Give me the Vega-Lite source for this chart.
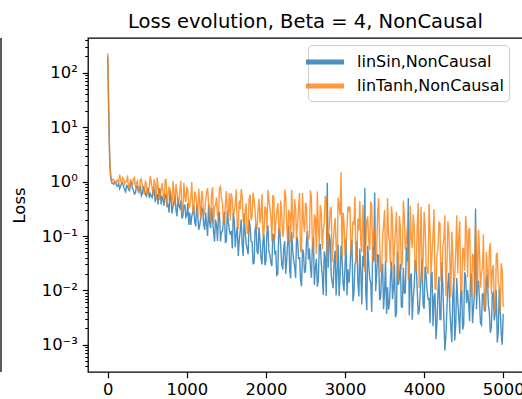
{
  "$schema": "https://vega.github.io/schema/vega-lite/v6.json",
  "width": 435,
  "height": 334,
  "autosize": "none",
  "padding": {"left": 88, "top": 38, "right": 0, "bottom": 27},
  "config": {
    "font": "DejaVu Sans",
    "view": {"stroke": "black", "strokeWidth": 1.3},
    "axis": {"grid": false, "domain": false, "tickColor": "black", "labelColor": "black", "titleColor": "black", "labelFont": "DejaVu Sans", "titleFont": "DejaVu Sans", "tickWidth": 1.2}
  },
  "title": {"text": "Loss evolution, Beta = 4, NonCausal", "font": "DejaVu Sans", "fontSize": 19.5, "fontWeight": "normal", "color": "black", "anchor": "middle", "frame": "group", "offset": 5},
  "data": {"values": [
    {"it":0,"sin":200,"tanh":230},{"it":12,"sin":18,"tanh":22},{"it":25,"sin":2.2,"tanh":2.6},{"it":37,"sin":1.2,"tanh":1.3},
    {"it":50,"sin":0.95,"tanh":1.0},{"it":62,"sin":0.94,"tanh":1.1},{"it":75,"sin":0.89,"tanh":1.1},{"it":87,"sin":0.99,"tanh":0.97},
    {"it":100,"sin":0.98,"tanh":0.95},{"it":112,"sin":0.83,"tanh":1.05},{"it":125,"sin":0.83,"tanh":1.05},{"it":137,"sin":0.91,"tanh":0.91},
    {"it":150,"sin":0.74,"tanh":1.35},{"it":162,"sin":0.82,"tanh":1.08},{"it":175,"sin":0.93,"tanh":0.91},{"it":187,"sin":0.95,"tanh":1.18},
    {"it":200,"sin":0.81,"tanh":1.1},{"it":212,"sin":0.71,"tanh":0.91},{"it":225,"sin":0.65,"tanh":1.0},{"it":237,"sin":0.85,"tanh":1.0},
    {"it":250,"sin":0.83,"tanh":1.3},{"it":262,"sin":0.71,"tanh":0.79},{"it":275,"sin":0.68,"tanh":0.74},{"it":287,"sin":0.93,"tanh":1.11},
    {"it":300,"sin":0.98,"tanh":0.95},{"it":312,"sin":0.75,"tanh":0.85},{"it":325,"sin":0.69,"tanh":1.12},{"it":337,"sin":0.59,"tanh":1.19},
    {"it":350,"sin":0.62,"tanh":0.78},{"it":362,"sin":0.82,"tanh":0.94},{"it":375,"sin":0.83,"tanh":1.02},{"it":387,"sin":0.66,"tanh":0.7},
    {"it":400,"sin":0.69,"tanh":0.6},{"it":412,"sin":0.84,"tanh":1.09},{"it":425,"sin":0.55,"tanh":1.12},{"it":437,"sin":0.6,"tanh":0.82},
    {"it":450,"sin":0.83,"tanh":0.79},{"it":462,"sin":0.71,"tanh":0.58},{"it":475,"sin":0.59,"tanh":1.0},{"it":487,"sin":0.54,"tanh":0.93},
    {"it":500,"sin":0.69,"tanh":0.58},{"it":512,"sin":0.77,"tanh":0.6},{"it":525,"sin":0.5,"tanh":0.81},{"it":537,"sin":0.6,"tanh":1.26},
    {"it":550,"sin":0.54,"tanh":1.0},{"it":562,"sin":0.51,"tanh":0.72},{"it":575,"sin":0.76,"tanh":0.55},{"it":587,"sin":0.71,"tanh":1.1},
    {"it":600,"sin":0.42,"tanh":0.85},{"it":612,"sin":0.53,"tanh":0.46},{"it":625,"sin":0.59,"tanh":1.19},{"it":637,"sin":0.38,"tanh":0.79},
    {"it":650,"sin":0.74,"tanh":0.46},{"it":662,"sin":0.72,"tanh":0.56},{"it":675,"sin":0.38,"tanh":0.71},{"it":687,"sin":0.52,"tanh":0.94},
    {"it":700,"sin":0.48,"tanh":0.56},{"it":712,"sin":0.36,"tanh":0.45},{"it":725,"sin":0.58,"tanh":1.02},{"it":737,"sin":0.56,"tanh":1.13},
    {"it":750,"sin":0.34,"tanh":0.35},{"it":762,"sin":0.39,"tanh":0.56},{"it":775,"sin":0.27,"tanh":0.78},{"it":787,"sin":0.68,"tanh":0.74},
    {"it":800,"sin":0.47,"tanh":0.54},{"it":812,"sin":0.26,"tanh":0.37},{"it":825,"sin":0.35,"tanh":1.02},{"it":837,"sin":0.43,"tanh":0.63},
    {"it":850,"sin":0.56,"tanh":0.37},{"it":862,"sin":0.3,"tanh":0.89},{"it":875,"sin":0.23,"tanh":0.64},{"it":887,"sin":0.51,"tanh":0.38},
    {"it":900,"sin":0.35,"tanh":0.43},{"it":912,"sin":0.32,"tanh":0.71},{"it":925,"sin":0.45,"tanh":1.03},{"it":937,"sin":0.21,"tanh":0.28},
    {"it":950,"sin":0.23,"tanh":0.29},{"it":962,"sin":0.36,"tanh":0.95},{"it":975,"sin":0.37,"tanh":0.51},{"it":987,"sin":0.22,"tanh":0.42},
    {"it":1000,"sin":0.24,"tanh":0.81},{"it":1012,"sin":0.4,"tanh":0.71},{"it":1025,"sin":0.16,"tanh":0.32},{"it":1037,"sin":0.27,"tanh":0.35},
    {"it":1050,"sin":0.16,"tanh":0.51},{"it":1062,"sin":0.23,"tanh":0.98},{"it":1075,"sin":0.27,"tanh":0.28},{"it":1087,"sin":0.35,"tanh":0.3},
    {"it":1100,"sin":0.18,"tanh":0.66},{"it":1112,"sin":0.15,"tanh":0.57},{"it":1125,"sin":0.37,"tanh":0.38},{"it":1137,"sin":0.25,"tanh":0.23},
    {"it":1150,"sin":0.13,"tanh":0.74},{"it":1162,"sin":0.155,"tanh":0.41},{"it":1175,"sin":0.21,"tanh":0.2},{"it":1187,"sin":0.33,"tanh":0.68},
    {"it":1200,"sin":0.3,"tanh":0.52},{"it":1212,"sin":0.164,"tanh":0.24},{"it":1225,"sin":0.13,"tanh":0.28},{"it":1237,"sin":0.27,"tanh":0.44},
    {"it":1250,"sin":0.16,"tanh":0.65},{"it":1262,"sin":0.1,"tanh":0.76},{"it":1275,"sin":0.39,"tanh":0.39},{"it":1287,"sin":0.18,"tanh":0.28},
    {"it":1300,"sin":0.14,"tanh":0.19},{"it":1312,"sin":0.33,"tanh":0.58},{"it":1325,"sin":0.2,"tanh":0.79},{"it":1337,"sin":0.122,"tanh":0.166},
    {"it":1350,"sin":0.079,"tanh":0.34},{"it":1362,"sin":0.2,"tanh":0.37},{"it":1375,"sin":0.16,"tanh":0.51},{"it":1387,"sin":0.081,"tanh":0.24},
    {"it":1400,"sin":0.25,"tanh":0.22},{"it":1412,"sin":0.275,"tanh":0.76},{"it":1425,"sin":0.079,"tanh":0.82},{"it":1437,"sin":0.118,"tanh":0.5},
    {"it":1450,"sin":0.12,"tanh":0.41},{"it":1462,"sin":0.185,"tanh":0.175},{"it":1475,"sin":0.28,"tanh":0.17},{"it":1487,"sin":0.077,"tanh":0.4},
    {"it":1500,"sin":0.079,"tanh":0.67},{"it":1512,"sin":0.29,"tanh":0.26},{"it":1525,"sin":0.18,"tanh":0.23},{"it":1537,"sin":0.129,"tanh":0.61},
    {"it":1550,"sin":0.105,"tanh":0.19},{"it":1562,"sin":0.124,"tanh":0.61},{"it":1575,"sin":0.059,"tanh":0.46},{"it":1587,"sin":0.27,"tanh":0.236},
    {"it":1600,"sin":0.19,"tanh":0.29},{"it":1612,"sin":0.062,"tanh":0.38},{"it":1625,"sin":0.11,"tanh":0.72},{"it":1637,"sin":0.148,"tanh":0.151},
    {"it":1650,"sin":0.043,"tanh":0.135},{"it":1662,"sin":0.082,"tanh":0.45},{"it":1675,"sin":0.126,"tanh":0.31},{"it":1687,"sin":0.2,"tanh":0.73},
    {"it":1700,"sin":0.069,"tanh":0.54},{"it":1712,"sin":0.043,"tanh":0.19},{"it":1725,"sin":0.26,"tanh":0.166},{"it":1737,"sin":0.119,"tanh":0.3},
    {"it":1750,"sin":0.071,"tanh":0.4},{"it":1762,"sin":0.058,"tanh":0.112},{"it":1775,"sin":0.046,"tanh":0.11},{"it":1787,"sin":0.2,"tanh":0.48},
    {"it":1800,"sin":0.145,"tanh":0.575},{"it":1812,"sin":0.08,"tanh":0.195},{"it":1825,"sin":0.078,"tanh":0.23},{"it":1837,"sin":0.031,"tanh":0.63},
    {"it":1850,"sin":0.032,"tanh":0.46},{"it":1862,"sin":0.124,"tanh":0.31},{"it":1875,"sin":0.164,"tanh":0.135},{"it":1887,"sin":0.052,"tanh":0.135},
    {"it":1900,"sin":0.046,"tanh":0.3},{"it":1912,"sin":0.145,"tanh":0.49},{"it":1925,"sin":0.083,"tanh":0.176},{"it":1937,"sin":0.039,"tanh":0.24},
    {"it":1950,"sin":0.03,"tanh":0.59},{"it":1962,"sin":0.08,"tanh":0.104},{"it":1975,"sin":0.107,"tanh":0.112},{"it":1987,"sin":0.029,"tanh":0.35},
    {"it":2000,"sin":0.035,"tanh":0.31},{"it":2012,"sin":0.115,"tanh":0.135},{"it":2025,"sin":0.157,"tanh":0.71},{"it":2037,"sin":0.052,"tanh":0.47},
    {"it":2050,"sin":0.046,"tanh":0.335},{"it":2062,"sin":0.032,"tanh":0.22},{"it":2075,"sin":0.028,"tanh":0.08},{"it":2087,"sin":0.107,"tanh":0.57},
    {"it":2100,"sin":0.105,"tanh":0.51},{"it":2112,"sin":0.048,"tanh":0.087},{"it":2125,"sin":0.051,"tanh":0.184},{"it":2137,"sin":0.019,"tanh":0.29},
    {"it":2150,"sin":0.02,"tanh":0.4},{"it":2162,"sin":0.139,"tanh":0.145},{"it":2175,"sin":0.12,"tanh":0.1},{"it":2187,"sin":0.062,"tanh":0.45},
    {"it":2200,"sin":0.03,"tanh":0.245},{"it":2212,"sin":0.024,"tanh":0.096},{"it":2225,"sin":0.058,"tanh":0.133},{"it":2237,"sin":0.081,"tanh":0.71},
    {"it":2250,"sin":0.02,"tanh":0.556},{"it":2262,"sin":0.035,"tanh":0.166},{"it":2275,"sin":0.078,"tanh":0.078},{"it":2287,"sin":0.155,"tanh":0.3},
    {"it":2300,"sin":0.023,"tanh":0.26},{"it":2312,"sin":0.0166,"tanh":0.076},{"it":2325,"sin":0.117,"tanh":0.71},{"it":2337,"sin":0.058,"tanh":0.23},
    {"it":2350,"sin":0.035,"tanh":0.091},{"it":2362,"sin":0.028,"tanh":0.48},{"it":2375,"sin":0.017,"tanh":0.32},{"it":2387,"sin":0.099,"tanh":0.089},
    {"it":2400,"sin":0.085,"tanh":0.166},{"it":2412,"sin":0.0375,"tanh":0.32},{"it":2425,"sin":0.041,"tanh":0.62},{"it":2437,"sin":0.0158,"tanh":0.05},
    {"it":2450,"sin":0.012,"tanh":0.055},{"it":2462,"sin":0.057,"tanh":0.62},{"it":2475,"sin":0.049,"tanh":0.18},{"it":2487,"sin":0.021,"tanh":0.117},
    {"it":2500,"sin":0.023,"tanh":0.41},{"it":2512,"sin":0.078,"tanh":0.35},{"it":2525,"sin":0.124,"tanh":0.087},{"it":2537,"sin":0.037,"tanh":0.087},
    {"it":2550,"sin":0.059,"tanh":0.1},{"it":2562,"sin":0.028,"tanh":0.69},{"it":2575,"sin":0.017,"tanh":0.51},{"it":2587,"sin":0.065,"tanh":0.073},
    {"it":2600,"sin":0.093,"tanh":0.054},{"it":2612,"sin":0.0126,"tanh":0.25},{"it":2625,"sin":0.026,"tanh":0.216},{"it":2637,"sin":0.038,"tanh":0.046},
    {"it":2650,"sin":0.0117,"tanh":0.66},{"it":2662,"sin":0.0152,"tanh":0.139},{"it":2675,"sin":0.069,"tanh":0.067},{"it":2687,"sin":0.069,"tanh":0.37},
    {"it":2700,"sin":0.031,"tanh":0.275},{"it":2712,"sin":0.0186,"tanh":0.057},{"it":2725,"sin":0.0082,"tanh":0.13},{"it":2737,"sin":0.052,"tanh":0.176},
    {"it":2750,"sin":0.039,"tanh":0.55},{"it":2762,"sin":0.0079,"tanh":0.47},{"it":2775,"sin":0.95,"tanh":0.04},{"it":2787,"sin":0.026,"tanh":0.083},
    {"it":2800,"sin":0.11,"tanh":0.145},{"it":2812,"sin":0.084,"tanh":0.3},{"it":2825,"sin":0.019,"tanh":0.34},{"it":2837,"sin":0.0145,"tanh":0.033},
    {"it":2850,"sin":0.011,"tanh":0.067},{"it":2862,"sin":0.036,"tanh":0.14},{"it":2875,"sin":0.054,"tanh":0.214},{"it":2887,"sin":0.0081,"tanh":0.066},
    {"it":2900,"sin":0.023,"tanh":0.031},{"it":2912,"sin":0.07,"tanh":0.51},{"it":2925,"sin":0.0078,"tanh":0.37},{"it":2937,"sin":0.0176,"tanh":0.24},
    {"it":2950,"sin":0.067,"tanh":1.48},{"it":2962,"sin":0.04,"tanh":0.04},{"it":2975,"sin":0.013,"tanh":0.27},{"it":2987,"sin":0.0098,"tanh":0.173},
    {"it":3000,"sin":0.029,"tanh":0.044},{"it":3012,"sin":0.087,"tanh":0.08},{"it":3025,"sin":0.0081,"tanh":0.145},{"it":3037,"sin":0.0245,"tanh":0.35},
    {"it":3050,"sin":0.0138,"tanh":0.3},{"it":3062,"sin":0.024,"tanh":0.35},{"it":3075,"sin":0.063,"tanh":0.048},{"it":3087,"sin":0.084,"tanh":0.076},
    {"it":3100,"sin":0.0063,"tanh":0.186},{"it":3112,"sin":0.0084,"tanh":0.159},{"it":3125,"sin":0.03,"tanh":0.53},{"it":3137,"sin":0.035,"tanh":0.034},
    {"it":3150,"sin":0.081,"tanh":0.033},{"it":3162,"sin":0.0141,"tanh":0.21},{"it":3175,"sin":0.0077,"tanh":0.126},{"it":3187,"sin":0.059,"tanh":0.44},
    {"it":3200,"sin":0.021,"tanh":0.069},{"it":3212,"sin":0.0055,"tanh":0.051},{"it":3225,"sin":0.043,"tanh":0.37},{"it":3237,"sin":0.0275,"tanh":0.107},
    {"it":3250,"sin":0.76,"tanh":0.022},{"it":3262,"sin":0.0094,"tanh":0.057},{"it":3275,"sin":0.0043,"tanh":0.195},{"it":3287,"sin":0.066,"tanh":0.23},
    {"it":3300,"sin":0.03,"tanh":0.076},{"it":3312,"sin":0.0164,"tanh":0.055},{"it":3325,"sin":0.0138,"tanh":0.43},{"it":3337,"sin":0.004,"tanh":0.36},
    {"it":3350,"sin":0.063,"tanh":0.033},{"it":3362,"sin":0.034,"tanh":0.119},{"it":3375,"sin":0.63,"tanh":0.138},{"it":3387,"sin":0.0096,"tanh":0.033},
    {"it":3400,"sin":0.02,"tanh":0.051},{"it":3412,"sin":0.045,"tanh":0.26},{"it":3425,"sin":0.044,"tanh":0.5},{"it":3437,"sin":0.0066,"tanh":0.083},
    {"it":3450,"sin":0.0075,"tanh":0.022},{"it":3462,"sin":0.0195,"tanh":0.0219},{"it":3475,"sin":0.031,"tanh":0.095},{"it":3487,"sin":0.0045,"tanh":0.157},
    {"it":3500,"sin":0.0098,"tanh":0.3},{"it":3512,"sin":0.035,"tanh":0.035},{"it":3525,"sin":0.0037,"tanh":0.034},{"it":3537,"sin":0.0114,"tanh":0.5},
    {"it":3550,"sin":0.0044,"tanh":0.107},{"it":3562,"sin":0.006,"tanh":0.077},{"it":3575,"sin":0.0178,"tanh":0.0275},{"it":3587,"sin":0.034,"tanh":0.35},
    {"it":3600,"sin":0.0069,"tanh":0.204},{"it":3612,"sin":0.0111,"tanh":0.019},{"it":3625,"sin":0.03,"tanh":0.062},{"it":3637,"sin":0.0032,"tanh":0.122},
    {"it":3650,"sin":0.0037,"tanh":0.28},{"it":3662,"sin":0.051,"tanh":0.043},{"it":3675,"sin":0.0126,"tanh":0.015},{"it":3687,"sin":0.017,"tanh":0.233},
    {"it":3700,"sin":0.031,"tanh":0.138},{"it":3712,"sin":0.005,"tanh":0.0246},{"it":3725,"sin":0.0049,"tanh":0.034},{"it":3737,"sin":0.026,"tanh":0.45},
    {"it":3750,"sin":0.0089,"tanh":0.224},{"it":3762,"sin":0.009,"tanh":0.056},{"it":3775,"sin":0.062,"tanh":0.078},{"it":3787,"sin":0.034,"tanh":0.145},
    {"it":3800,"sin":0.5,"tanh":0.0158},{"it":3812,"sin":0.0035,"tanh":0.0186},{"it":3825,"sin":0.0178,"tanh":0.36},{"it":3837,"sin":0.0207,"tanh":0.089},
    {"it":3850,"sin":0.0029,"tanh":0.06},{"it":3862,"sin":0.0071,"tanh":0.25},{"it":3875,"sin":0.0126,"tanh":0.145},{"it":3887,"sin":0.036,"tanh":0.0243},
    {"it":3900,"sin":0.03,"tanh":0.0234},{"it":3912,"sin":0.0106,"tanh":0.142},{"it":3925,"sin":0.0036,"tanh":0.41},{"it":3937,"sin":0.0042,"tanh":0.0111},
    {"it":3950,"sin":0.0087,"tanh":0.095},{"it":3962,"sin":0.0184,"tanh":0.34},{"it":3975,"sin":0.038,"tanh":0.0148},{"it":3987,"sin":0.0054,"tanh":0.037},
    {"it":4000,"sin":0.0046,"tanh":0.275},{"it":4012,"sin":0.0275,"tanh":0.158},{"it":4025,"sin":0.019,"tanh":0.0295},{"it":4037,"sin":0.0104,"tanh":0.0246},
    {"it":4050,"sin":0.0069,"tanh":0.02},{"it":4062,"sin":0.007,"tanh":0.39},{"it":4075,"sin":0.0025,"tanh":0.126},{"it":4087,"sin":0.02,"tanh":0.0196},
    {"it":4100,"sin":0.022,"tanh":0.049},{"it":4112,"sin":0.0022,"tanh":0.103},{"it":4125,"sin":0.0075,"tanh":0.31},{"it":4137,"sin":0.0089,"tanh":0.0107},
    {"it":4150,"sin":0.00126,"tanh":0.0105},{"it":4162,"sin":0.0025,"tanh":0.047},{"it":4175,"sin":0.0091,"tanh":0.056},{"it":4187,"sin":0.018,"tanh":0.18},
    {"it":4200,"sin":0.0029,"tanh":0.17},{"it":4212,"sin":0.0029,"tanh":0.0147},{"it":4225,"sin":0.033,"tanh":0.021},{"it":4237,"sin":0.0112,"tanh":0.065},
    {"it":4250,"sin":0.0029,"tanh":0.093},{"it":4262,"sin":0.00079,"tanh":0.24},{"it":4275,"sin":0.00144,"tanh":0.0078},{"it":4287,"sin":0.0043,"tanh":0.024},
    {"it":4300,"sin":0.0124,"tanh":0.186},{"it":4312,"sin":0.021,"tanh":0.129},{"it":4325,"sin":0.0044,"tanh":0.033},{"it":4337,"sin":0.0022,"tanh":0.0074},
    {"it":4350,"sin":0.00112,"tanh":0.12},{"it":4362,"sin":0.0074,"tanh":0.047},{"it":4375,"sin":0.017,"tanh":0.0123},{"it":4387,"sin":0.0012,"tanh":0.018},
    {"it":4400,"sin":0.0024,"tanh":0.054},{"it":4412,"sin":0.0169,"tanh":0.24},{"it":4425,"sin":0.0063,"tanh":0.0204},{"it":4437,"sin":0.0034,"tanh":0.091},
    {"it":4450,"sin":0.0016,"tanh":0.186},{"it":4462,"sin":0.0088,"tanh":0.0095},{"it":4475,"sin":0.0102,"tanh":0.0093},{"it":4487,"sin":0.0019,"tanh":0.059},
    {"it":4500,"sin":0.0023,"tanh":0.058},{"it":4512,"sin":0.0216,"tanh":0.0229},{"it":4525,"sin":0.018,"tanh":0.234},{"it":4537,"sin":0.0058,"tanh":0.136},
    {"it":4550,"sin":0.0102,"tanh":0.0174},{"it":4562,"sin":0.0059,"tanh":0.127},{"it":4575,"sin":0.0027,"tanh":0.141},{"it":4587,"sin":0.0204,"tanh":0.02},
    {"it":4600,"sin":0.0178,"tanh":0.0079},{"it":4612,"sin":0.0025,"tanh":0.046},{"it":4625,"sin":0.0049,"tanh":0.044},{"it":4637,"sin":0.0092,"tanh":0.0076},
    {"it":4650,"sin":0.32,"tanh":0.166},{"it":4662,"sin":0.0045,"tanh":0.058},{"it":4675,"sin":0.0135,"tanh":0.01},{"it":4687,"sin":0.015,"tanh":0.13},
    {"it":4700,"sin":0.0068,"tanh":0.052},{"it":4712,"sin":0.0025,"tanh":0.0112},{"it":4725,"sin":0.0023,"tanh":0.021},{"it":4737,"sin":0.0085,"tanh":0.025},
    {"it":4750,"sin":0.0087,"tanh":0.107},{"it":4762,"sin":0.0042,"tanh":0.0045},{"it":4775,"sin":0.0042,"tanh":0.0051},{"it":4787,"sin":0.0158,"tanh":0.051},
    {"it":4800,"sin":0.019,"tanh":0.0214},{"it":4812,"sin":0.0054,"tanh":0.0111},{"it":4825,"sin":0.0039,"tanh":0.054},{"it":4837,"sin":0.00166,"tanh":0.074},
    {"it":4850,"sin":0.0021,"tanh":0.0087},{"it":4862,"sin":0.0085,"tanh":0.0224},{"it":4875,"sin":0.0091,"tanh":0.0295},{"it":4887,"sin":0.0028,"tanh":0.006},
    {"it":4900,"sin":0.0038,"tanh":0.0036},{"it":4912,"sin":0.01,"tanh":0.0445},{"it":4925,"sin":0.0011,"tanh":0.049},{"it":4937,"sin":0.0017,"tanh":0.0141},
    {"it":4950,"sin":0.0106,"tanh":0.0115},{"it":4962,"sin":0.0043,"tanh":0.004},{"it":4975,"sin":0.0016,"tanh":0.0316},{"it":4987,"sin":0.001,"tanh":0.0234},
    {"it":5000,"sin":0.0037,"tanh":0.005}
  ]},
  "layer": [
    {
      "transform": [{"fold": ["sin", "tanh"], "as": ["series", "loss"]}],
      "mark": {"type": "line", "strokeWidth": 1.4, "strokeOpacity": 0.8, "interpolate": "linear"},
      "encoding": {
        "x": {"field": "it", "type": "quantitative", "scale": {"domain": [-250, 5250], "nice": false, "zero": false},
          "axis": {"orient": "bottom", "values": [0, 1000, 2000, 3000, 4000, 5000], "format": "d", "title": null, "labelFontSize": 16.4, "tickSize": 5.7, "labelPadding": 4}},
        "y": {"field": "loss", "type": "quantitative", "scale": {"type": "log", "domain": [0.000316, 437], "nice": false},
          "axis": {"orient": "left", "values": [0.001, 0.01, 0.1, 1, 10, 100], "title": "Loss", "titleFontSize": 16.4, "titleFontWeight": "normal", "titlePadding": 14, "labelFontSize": 16.4, "tickSize": 5.7, "labelPadding": 5,
            "labelExpr": "'10' + ['⁻³','⁻²','⁻¹','⁰','¹','²'][round(log(datum.value)/LN10)+3]"}},
        "color": {"field": "series", "type": "nominal",
          "scale": {"domain": ["sin", "tanh"], "range": ["#1f77b4", "#ff7f0e"]},
          "legend": {"orient": "none", "legendX": 220, "legendY": 7, "title": null, "fillColor": "rgba(255,255,255,0.8)", "strokeColor": "#cccccc", "cornerRadius": 4, "padding": 5,
            "symbolType": "M-2,0H2", "symbolStrokeWidth": 5, "symbolSize": 361, "symbolOffset": 0, "symbolOpacity": 0.8, "labelFontSize": 16, "labelFont": "DejaVu Sans", "labelColor": "black", "labelOffset": 20, "rowPadding": 2,
            "labelExpr": "datum.label == 'sin' ? 'linSin,NonCausal' : 'linTanh,NonCausal'"}}
      }
    },
    {
      "data": {"values": []},
      "mark": {"type": "rule"},
      "encoding": {
        "y": {"field": "loss", "type": "quantitative",
          "axis": {"orient": "left", "title": null, "labels": false, "tickSize": 3.3, "tickWidth": 1, "domain": false,
            "values": [0.0004,0.0005,0.0006,0.0007,0.0008,0.0009,0.002,0.003,0.004,0.005,0.006,0.007,0.008,0.009,0.02,0.03,0.04,0.05,0.06,0.07,0.08,0.09,0.2,0.3,0.4,0.5,0.6,0.7,0.8,0.9,2,3,4,5,6,7,8,9,20,30,40,50,60,70,80,90,200,300,400]}}
      }
    },
    {
      "data": {"values": [{}]},
      "mark": {"type": "rule", "color": "black", "strokeWidth": 1.3},
      "encoding": {"x": {"datum": -1350}}
    }
  ],
  "resolve": {"axis": {"y": "independent"}}
}
